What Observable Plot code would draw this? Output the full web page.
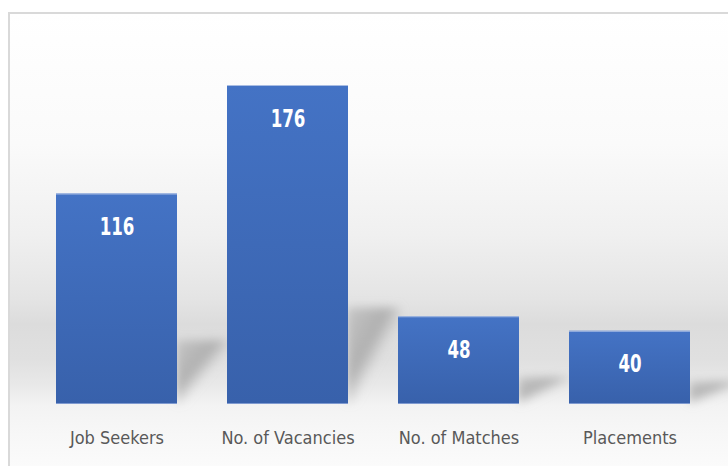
<!DOCTYPE html>
<html>
<head>
<meta charset="utf-8">
<script src="https://cdn.jsdelivr.net/npm/d3@7"></script>
<script src="https://cdn.jsdelivr.net/npm/@observablehq/plot@0.6"></script>
<style>
  html, body { margin: 0; padding: 0; background: #ffffff; }
  #wrap { position: relative; width: 728px; height: 466px; overflow: hidden; }
  #panel {
    position: absolute; left: 8px; top: 12px; width: 720px; height: 454px;
    border-top: 2px solid #d9d9d9; border-left: 2px solid #d9d9d9; box-sizing: border-box;
    background: linear-gradient(to bottom,
      #ffffff 0px, #fafafa 130px, #f0f0f0 220px, #e4e4e4 285px, #dcdcdc 310px,
      #e0e0e0 345px, #e9e9e9 372px, #f3f3f3 391px, #f7f7f7 420px, #fbfbfb 454px);
  }
  #chart { position: absolute; left: 0; top: 0; }
</style>
</head>
<body>
<div id="wrap"><div id="panel"></div><div id="chart"></div></div>
<script>
const categories = ["Job Seekers", "No. of Vacancies", "No. of Matches", "Placements"];
const values = [116, 176, 48, 40];
const labels = ["116", "176", "48", "40"];

const data = categories.map((c, i) => ({category: c, value: values[i], label: labels[i]}));

const font = "'Liberation Sans Narrow', 'DejaVu Sans Condensed', 'Liberation Sans', sans-serif";

const chart = Plot.plot({
  width: 728,
  height: 466,
  marginTop: 0, marginRight: 0, marginBottom: 0, marginLeft: 0,
  style: {background: "transparent", fontFamily: font, overflow: "visible"},
  x: {domain: categories, range: [31, 715], paddingInner: 50 / 171, paddingOuter: 25 / 171, axis: null},
  y: {domain: [0, 176], range: [403, 85], axis: null},
  marks: [
    Plot.barY(data, {x: "category", y1: 0, y2: d => d.value * 0.3, dx: 52, insetLeft: 68,
      fill: "url(#shadowGrad)", ariaDescription: "shadow"}),
    Plot.barY(data, {x: "category", y: "value", fill: "url(#barGrad)", ariaDescription: "bars"}),
    Plot.tickY(data, {x: "category", y: "value", stroke: "#a9bde3", strokeWidth: 1.2}),
    Plot.tickY(data, {x: "category", y: 0, stroke: "#7f9ad0", strokeWidth: 1}),
    Plot.text(data, {x: "category", y: "value", text: "label", dy: 33, fill: "white",
      fontWeight: "bold", fontSize: 25, fontFamily: font, ariaDescription: "values"}),
    Plot.text(data, {x: "category", y: 0, text: "category", dy: 35, fill: "#595959",
      fontSize: 18, fontFamily: font})
  ]
});

const svg = d3.select(chart);
const defs = svg.insert("defs", ":first-child");
const g = defs.append("linearGradient").attr("id", "barGrad")
  .attr("x1", 0).attr("y1", 0).attr("x2", 0).attr("y2", 1);
g.append("stop").attr("offset", "0%").attr("stop-color", "#4473c5");
g.append("stop").attr("offset", "100%").attr("stop-color", "#3861ab");
const sg = defs.append("linearGradient").attr("id", "shadowGrad")
  .attr("x1", 0).attr("y1", 0).attr("x2", 1).attr("y2", 1);
sg.append("stop").attr("offset", "0%").attr("stop-color", "#c4c4c4").attr("stop-opacity", 0.9);
sg.append("stop").attr("offset", "40%").attr("stop-color", "#a8a8a8").attr("stop-opacity", 0.85);
sg.append("stop").attr("offset", "58%").attr("stop-color", "#b0b0b0").attr("stop-opacity", 0);
sg.append("stop").attr("offset", "100%").attr("stop-color", "#ffffff").attr("stop-opacity", 0);
const f = defs.append("filter").attr("id", "blurShadow")
  .attr("x", "-50%").attr("y", "-50%").attr("width", "200%").attr("height", "200%");
f.append("feGaussianBlur").attr("stdDeviation", 5);
svg.selectAll('g[aria-description="shadow"]').attr("filter", "url(#blurShadow)");
svg.selectAll('g[aria-description="values"] text').each(function() {
  const t = this.getAttribute("transform");
  if (t) this.setAttribute("transform", t + " scale(0.74,1)");
});

document.getElementById("chart").appendChild(chart);
</script>
</body>
</html>
